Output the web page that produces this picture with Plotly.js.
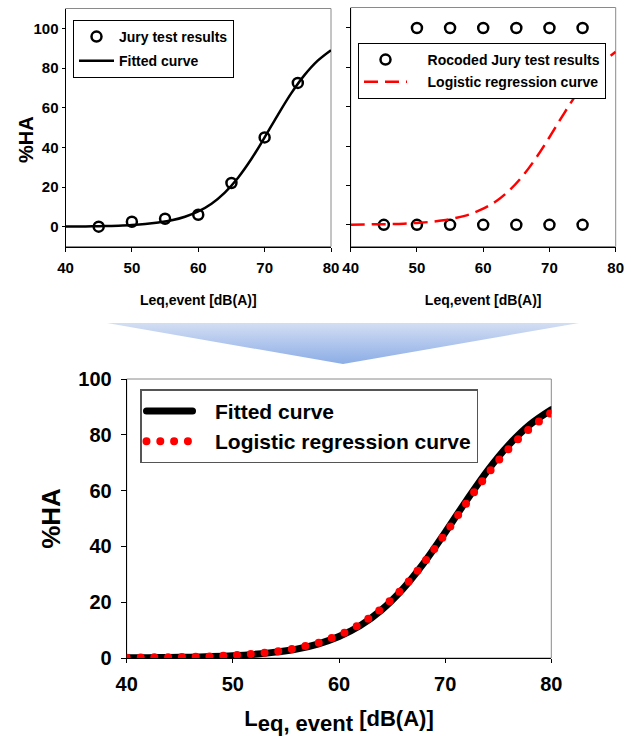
<!DOCTYPE html>
<html>
<head>
<meta charset="utf-8">
<script src="https://cdn.plot.ly/plotly-3.0.1.min.js"></script>
<style>html,body{margin:0;padding:0;background:#fff;}#chart{width:631px;height:738px;}</style>
</head>
<body>
<div id="chart"></div>
<script>
// ---- data ----
const leqJury = [45, 50, 55, 60, 65, 70, 75];
const haJury = [0, 2.5, 4, 6, 22, 45, 72.5];

const leqCurve = [40, 42, 44, 46, 48, 50, 52, 54, 56, 58, 60, 62, 64, 66, 68, 70, 72, 74, 76, 78, 80];
const haFitted = [0.1, 0.1, 0.2, 0.3, 0.5, 0.8, 1.3, 2.1, 3.2, 5.0, 7.7, 11.6, 17.2, 24.7, 34.1, 45.0, 56.4, 67.2, 76.4, 83.7, 89.0];
const haLogistic = [0.1, 0.2, 0.3, 0.4, 0.6, 1.0, 1.5, 2.3, 3.6, 5.4, 8.2, 12.1, 17.7, 25.0, 34.1, 44.5, 55.5, 65.9, 75.0, 82.3, 87.9];

const leqRecoded = [50, 55, 60, 65, 70, 75, 45, 50, 55, 60, 65, 70, 75];
const haRecoded = [100, 100, 100, 100, 100, 100, 0, 0, 0, 0, 0, 0, 0];

const xTicks = [40, 50, 60, 70, 80];
const yTicks = [0, 20, 40, 60, 80, 100];

const nameJury = 'Jury test results';
const nameFitted = 'Fitted curve';
const nameRecoded = 'Rocoded Jury test results';
const nameLogistic = 'Logistic regression curve';

// ---- styling ----
const FONT = 'Liberation Sans, Arial, sans-serif';
const W = 631, H = 738;
const px = v => v / W;
const py = v => 1 - v / H;
const pad = n => '\u00A0'.repeat(n);

const traces = [
  {x: leqJury, y: haJury, xaxis: 'x', yaxis: 'y', name: nameJury, legend: 'legend', legendgroup: 'a',
   mode: 'markers', type: 'scatter', marker: {symbol: 'circle-open', size: 10, color: '#000', line: {width: 2.5, color: '#000'}}},
  {x: leqCurve, y: haFitted, xaxis: 'x', yaxis: 'y', name: nameFitted, legend: 'legend', legendgroup: 'b',
   mode: 'lines', type: 'scatter', line: {color: '#000', width: 2.5, shape: 'spline'}},
  {x: leqRecoded, y: haRecoded, xaxis: 'x2', yaxis: 'y2', name: pad(4) + nameRecoded, legend: 'legend2', legendgroup: 'c',
   mode: 'markers', type: 'scatter', marker: {symbol: 'circle-open', size: 10, color: '#000', line: {width: 2.5, color: '#000'}}},
  {x: leqCurve, y: haLogistic, xaxis: 'x2', yaxis: 'y2', name: pad(4) + nameLogistic, legend: 'legend2', legendgroup: 'd',
   mode: 'lines', type: 'scatter', line: {color: '#ff0000', width: 2.5, dash: '14px,7px', shape: 'spline'}},
  {x: leqCurve, y: haFitted, xaxis: 'x3', yaxis: 'y3', name: pad(3) + nameFitted, legend: 'legend3', legendgroup: 'e',
   mode: 'lines', type: 'scatter', cliponaxis: false, line: {color: '#000', width: 7, shape: 'spline'}},
  {x: leqCurve, y: haLogistic, xaxis: 'x3', yaxis: 'y3', name: pad(3) + nameLogistic, legend: 'legend3', legendgroup: 'f',
   mode: 'lines', type: 'scatter', cliponaxis: false, line: {color: '#ff0000', width: 8, dash: '0px,13.8px', shape: 'spline'}}
];

function xAxis(domain, anchor, fs, titleText, titleFs, standoff, extra) {
  return Object.assign({
    domain: domain, anchor: anchor, range: [40, 80], tickvals: xTicks, ticktext: xTicks.map(String),
    ticks: 'outside', ticklen: 4, tickcolor: '#000', tickwidth: 1,
    showline: true, linecolor: '#000', linewidth: 1, showgrid: false, zeroline: false,
    tickfont: {family: FONT, size: fs, color: '#000', weight: 'bold'},
    title: {text: titleText, font: {family: FONT, size: titleFs, color: '#000', weight: 'bold'}, standoff: standoff},
    automargin: false, fixedrange: true
  }, extra || {});
}
function yAxis(domain, anchor, range, fs, extra) {
  return Object.assign({
    domain: domain, anchor: anchor, range: range, tickvals: yTicks, ticktext: yTicks.map(String),
    ticks: 'outside', ticklen: 4, tickcolor: '#000', tickwidth: 1,
    showline: true, linecolor: '#000', linewidth: 1, showgrid: false, zeroline: false,
    tickfont: {family: FONT, size: fs, color: '#000', weight: 'bold'},
    automargin: false, fixedrange: true
  }, extra || {});
}

function frame(xr, yr) {
  return {type: 'rect', xref: xr + ' domain', yref: yr + ' domain', x0: 0, x1: 1, y0: 0, y1: 1,
          line: {color: '#8a8a8a', width: 1}, fillcolor: 'rgba(0,0,0,0)', layer: 'below'};
}

const arrowSvg = '<svg xmlns="http://www.w3.org/2000/svg" width="472" height="41" viewBox="0 0 472 41" preserveAspectRatio="none">' +
  '<defs><linearGradient id="g" x1="0" y1="0" x2="0" y2="1"><stop offset="0" stop-color="#d3def3"/><stop offset="1" stop-color="#8cade6"/></linearGradient></defs>' +
  '<polygon points="0,0 472,0 236,41" fill="url(#g)"/></svg>';

const layout = {
  width: W, height: H,
  margin: {l: 0, r: 0, t: 0, b: 0, pad: 0},
  paper_bgcolor: '#fff', plot_bgcolor: 'rgba(0,0,0,0)',
  font: {family: FONT, color: '#000', weight: 'bold'},
  showlegend: true,
  xaxis: xAxis([px(65.5), px(331)], 'y', 15, 'Leq,event [dB(A)]', 14, 20, {ticklabelstandoff: 3}),
  yaxis: yAxis([py(246.5), py(8.5)], 'x', [-10, 110], 15, {ticklen: 3}),
  xaxis2: xAxis([px(350.7), px(615.7)], 'y2', 15, 'Leq,event [dB(A)]', 14, 20, {ticklabelstandoff: 3}),
  yaxis2: yAxis([py(246.5), py(7.5)], 'x2', [-11, 110.4], 15, {showticklabels: false}),
  xaxis3: xAxis([px(126.7), px(551.3)], 'y3', 20, 'L<sub><span style="font-size:22px">eq, event</span></sub> [dB(A)]', 22, 16,
                {layer: 'below traces', ticklabelstandoff: 4}),
  yaxis3: yAxis([py(658), py(379)], 'x3', [0, 100], 20,
                {ticklen: 5, ticklabelstandoff: 5, layer: 'below traces',
                 title: {text: '%HA', font: {family: FONT, size: 26, color: '#000', weight: 'bold'}, standoff: 10}}),
  legend: {x: px(73), y: py(20), xanchor: 'left', yanchor: 'top', bgcolor: '#fff', bordercolor: '#000', borderwidth: 1,
           font: {family: FONT, size: 14, color: '#000', weight: 'bold'}, itemwidth: 35, tracegroupgap: 3, traceorder: 'grouped'},
  legend2: {x: px(358), y: py(43), xanchor: 'left', yanchor: 'top', bgcolor: '#fff', bordercolor: '#000', borderwidth: 1,
           font: {family: FONT, size: 14, color: '#000', weight: 'bold'}, itemwidth: 43, tracegroupgap: 1, traceorder: 'grouped'},
  legend3: {x: px(140), y: py(389.3), xanchor: 'left', yanchor: 'top', bgcolor: '#fff', bordercolor: '#555', borderwidth: 1.5,
           font: {family: FONT, size: 21, color: '#000', weight: 'bold'}, itemwidth: 46, tracegroupgap: 0, traceorder: 'grouped'},
  annotations: [
    {text: '%HA', xref: 'paper', yref: 'paper', x: px(26), y: py(140), xanchor: 'center', yanchor: 'middle',
     textangle: -90, showarrow: false, font: {family: FONT, size: 20, color: '#000', weight: 'bold'}}
  ],
  shapes: [frame('x', 'y'), frame('x2', 'y2'), frame('x3', 'y3')],
  images: [{source: 'data:image/svg+xml;charset=utf-8,' + encodeURIComponent(arrowSvg),
            xref: 'paper', yref: 'paper', x: px(107), y: py(323), sizex: 472 / W, sizey: 41 / H,
            xanchor: 'left', yanchor: 'top', sizing: 'stretch', layer: 'below'}]
};

Plotly.newPlot('chart', traces, layout, {staticPlot: true, displayModeBar: false}).then(function (gd) {
  gd.querySelectorAll('path.js-line').forEach(function (p) {
    const sw = parseFloat(p.style.strokeWidth || '0');
    if (sw >= 6) { p.style.strokeLinecap = 'round'; p.style.strokeLinejoin = 'round'; }
  });
});
</script>
</body>
</html>
